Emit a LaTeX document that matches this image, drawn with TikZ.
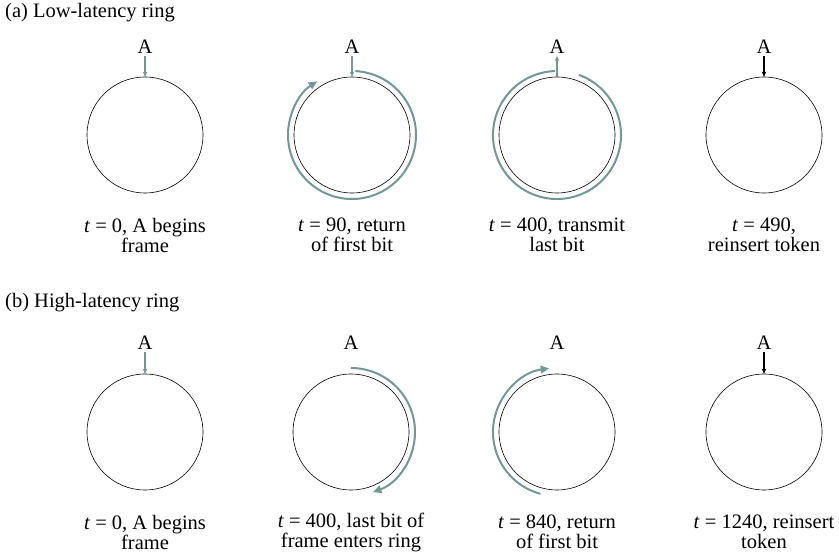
\documentclass[tikz,border=0pt]{standalone}
\usepackage{fontspec}
\setmainfont{Liberation Serif}
\usepackage{tikz}
\usetikzlibrary{arrows.meta,positioning,calc}
\definecolor{ringteal}{RGB}{112,152,152}

\begin{document}
\begin{tikzpicture}[x=1pt, y=1pt,
  ring/.style={draw, circle, minimum size=116pt, inner sep=0pt, line width=0.6pt},
  tag/.style={inner sep=2pt, font=\fontsize{20.5}{20}\selectfont},
  captext/.style={align=center, inner sep=0pt, font=\fontsize{20.5}{20}\selectfont},
  part/.style={anchor=west, inner sep=0pt, font=\fontsize{20.5}{20}\selectfont},
  tok/.style={-{Stealth[length=5pt, width=4.5pt]}, line width=1.3pt, ringteal},
  tokk/.style={-{Stealth[length=5pt, width=4.5pt]}, line width=1.1pt, black},
  flow/.style={line width=2pt, ringteal},
  farr/.style={flow, -{Triangle[length=8.5pt, width=7.5pt]}}]
\useasboundingbox (0,0) rectangle (839,560);

% (a) low latency
\node[part] (pa) at (5,547) {(a) Low-latency ring};
\node[ring] (a1) at (145,425) {};
\node[ring] (a2) at (352,425) {};
\node[ring] (a3) at (557,425) {};
\node[ring] (a4) at (764,425) {};
\node[tag] (ta1) at (145,513) {A};
\node[tag] (ta2) at (352,513) {A};
\node[tag] (ta3) at (557,513) {A};
\node[tag] (ta4) at (764,513) {A};
\draw[tok] (ta1) -- (a1.north);
\draw[tok] (ta2) -- (a2.north);
\draw[tok] (a3.north) -- (ta3);
\draw[tokk] (ta4) -- (a4.north);
\draw[farr] ($(a2.center)+(87:64)$) arc[start angle=87, end angle=-237, radius=64pt];
\draw[flow] ($(a3.center)+(70:64)$) arc[start angle=70, end angle=-268, radius=64pt];
\node[captext] (ca1) at (145,325) {\textit{t} = 0, A begins\\frame};
\node[captext] (ca2) at (352,325) {\textit{t} = 90, return\\of first bit};
\node[captext] (ca3) at (557,325) {\textit{t} = 400, transmit\\last bit};
\node[captext] (ca4) at (764,325) {\textit{t} = 490,\\reinsert token};

% (b) high latency
\node[part] (pb) at (5,257) {(b) High-latency ring};
\node[ring] (b1) at (145,128) {};
\node[ring] (b2) at (351,128) {};
\node[ring] (b3) at (557,128) {};
\node[ring] (b4) at (764,128) {};
\node[tag] (tb1) at (145,217) {A};
\node[tag] (tb2) at (351,217) {A};
\node[tag] (tb3) at (557,217) {A};
\node[tag] (tb4) at (764,217) {A};
\draw[tok] (tb1) -- (b1.north);
\draw[tokk] (tb4) -- (b4.north);
\draw[farr] ($(b2.center)+(90:64)$) arc[start angle=90, end angle=-70, radius=64pt];
\draw[farr] ($(b3.center)+(255:64)$) arc[start angle=255, end angle=97, radius=64pt];
\node[captext] (cb1) at (145,28) {\textit{t} = 0, A begins\\frame};
\node[captext] (cb2) at (351,28) {\textit{t} = 400, last bit of\\frame enters ring};
\node[captext] (cb3) at (557,28) {\textit{t} = 840, return\\of first bit};
\node[captext] (cb4) at (764,28) {\textit{t} = 1240, reinsert\\token};
\end{tikzpicture}
\end{document}
